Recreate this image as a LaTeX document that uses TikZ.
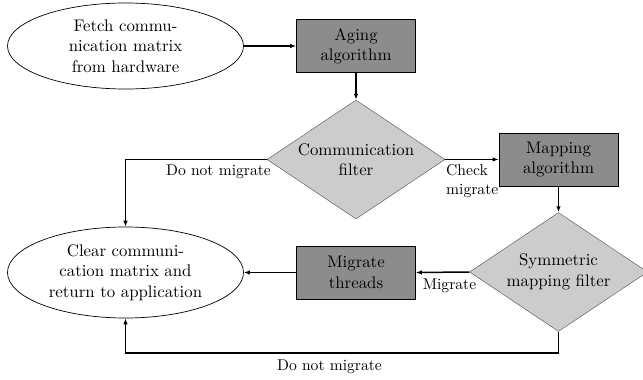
\documentclass[tikz,border=0pt]{standalone}
\usepackage{fontspec}
\setmainfont{lmroman10-regular}[Extension=.otf]
\usetikzlibrary{shapes.geometric,arrows.meta}
\definecolor{boxgray}{gray}{0.55}
\definecolor{diagray}{gray}{0.8}
\tikzset{
  nodefont/.style={font=\fontsize{16.8}{20.5}\selectfont, align=center},
  lblfont/.style={font=\fontsize{15.6}{18.5}\selectfont, inner sep=0pt},
  oval/.style={nodefont, ellipse, draw, line width=0.7pt, minimum width=236pt, inner sep=0pt},
  procbox/.style={nodefont, rectangle, draw, line width=0.7pt, fill=boxgray, minimum width=119pt, minimum height=53pt, inner sep=0pt},
  decision/.style={nodefont, diamond, draw=black!70, line width=0.4pt, fill=diagray, aspect=1.5, minimum width=178pt, minimum height=119pt, inner sep=0pt},
  flow/.style={line width=1.5pt, -{Latex[length=6pt,width=4.5pt]}},
}
\begin{document}
\begin{tikzpicture}[x=1pt,y=-1pt]
\useasboundingbox (0,0) rectangle (643,380);
\node[oval, minimum height=86pt] (fetch) at (125.5,46) {Fetch commu-\\nication matrix\\from hardware};
\node[procbox] (aging) at (356,46) {Aging\\algorithm};
\node[decision] (cfilter) at (356,159.5) {Communication\\filter};
\node[procbox] (mapping) at (558.5,159.5) {Mapping\\algorithm};
\node[decision] (sfilter) at (558.5,272) {Symmetric\\mapping filter};
\node[procbox] (migrate) at (356,272.5) {Migrate\\threads};
\node[oval, minimum height=91pt] (clear) at (125.5,272.5) {Clear communi-\\cation matrix and\\return to application};
\coordinate (bottomturn) at (125.5,353);

\draw[flow] (fetch.east) -- (aging.west);
\draw[flow] (aging.south) -- (cfilter.north);
\draw[flow] (cfilter.west) -| (clear.north);
\draw[flow] (cfilter.east) -- (mapping.west);
\draw[flow] (mapping.south) -- (sfilter.north);
\draw[flow] (sfilter.west) -- (migrate.east);
\draw[flow] (migrate.west) -- (clear.east);
\draw[flow] (sfilter.south) |- (bottomturn) -- (clear.south);

\node[lblfont, anchor=east] (l1) at (271,172) {Do not migrate};
\node[lblfont, anchor=west, align=left] (l2) at (446,181) {Check\\migrate};
\node[lblfont] (l3) at (449.5,286) {Migrate};
\node[lblfont] (l4) at (329.5,367) {Do not migrate};
\end{tikzpicture}
\end{document}
